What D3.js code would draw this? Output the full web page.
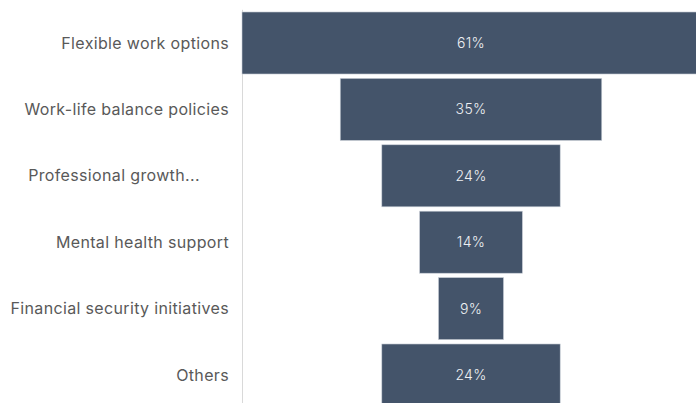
<!DOCTYPE html>
<html>
<head>
<meta charset="utf-8">
<script src="https://cdn.jsdelivr.net/npm/d3@7"></script>
<style>
  html, body { margin: 0; padding: 0; background: #fff; }
  svg { display: block; }
</style>
</head>
<body>
<svg id="chart" width="696" height="403"></svg>
<script>
// Share of respondents per workplace benefit
const categories = [
  "Flexible work options",
  "Work-life balance policies",
  "Professional growth...\u00a0\u00a0\u00a0\u00a0\u00a0\u00a0",
  "Mental health support",
  "Financial security initiatives",
  "Others"
];
const values = [61, 35, 24, 14, 9, 24];

const width = 696, height = 403;
const axisX = 242;
const barInset = 1.5;
const fontFamily = "Inter, 'Open Sans', sans-serif";

const svg = d3.select("#chart");

const y = d3.scaleBand()
  .domain(categories)
  .range([9.8, 408.2])
  .paddingInner(0.066)
  .paddingOuter(0.033);

const maxV = d3.max(values);
// Bars are centred, so the domain runs symmetrically around zero
const x = d3.scaleLinear()
  .domain([-maxV / 2, maxV / 2])
  .range([axisX - barInset, width + 5.5]);

const rows = categories.map((c, i) => ({ c, v: values[i] }));

// category axis line
svg.append("line")
  .attr("x1", axisX + 0.5).attr("x2", axisX + 0.5)
  .attr("y1", y.range()[0]).attr("y2", height)
  .attr("stroke", "#d9d9d9").attr("stroke-width", 1);

svg.append("g").selectAll("rect")
  .data(rows)
  .join("rect")
  .attr("x", d => x(-d.v / 2) + barInset)
  .attr("width", d => x(d.v / 2) - x(-d.v / 2) - 2 * barInset)
  .attr("y", d => y(d.c))
  .attr("height", y.bandwidth())
  .attr("fill", "#44546a")
  .attr("stroke", "#c9ced6")
  .attr("stroke-width", 0.6);

svg.append("g").selectAll("text")
  .data(rows)
  .join("text")
  .attr("x", x(0))
  .attr("y", d => y(d.c) + y.bandwidth() / 2)
  .attr("dy", "0.35em")
  .attr("text-anchor", "middle")
  .attr("fill", "#eef0f3")
  .style("font-family", fontFamily)
  .style("font-size", "14px")
  .style("font-weight", 300)
  .style("letter-spacing", "0.3px")
  .text(d => d.v + "%");

svg.append("g").selectAll("text")
  .data(rows)
  .join("text")
  .attr("x", axisX - 13)
  .attr("y", d => y(d.c) + y.bandwidth() / 2)
  .attr("dy", "0.35em")
  .attr("text-anchor", "end")
  .attr("fill", "#595959")
  .style("font-family", fontFamily)
  .style("font-size", "16px")
  .style("letter-spacing", "0.35px")
  .style("white-space", "pre")
  .text(d => d.c);
</script>
</body>
</html>
